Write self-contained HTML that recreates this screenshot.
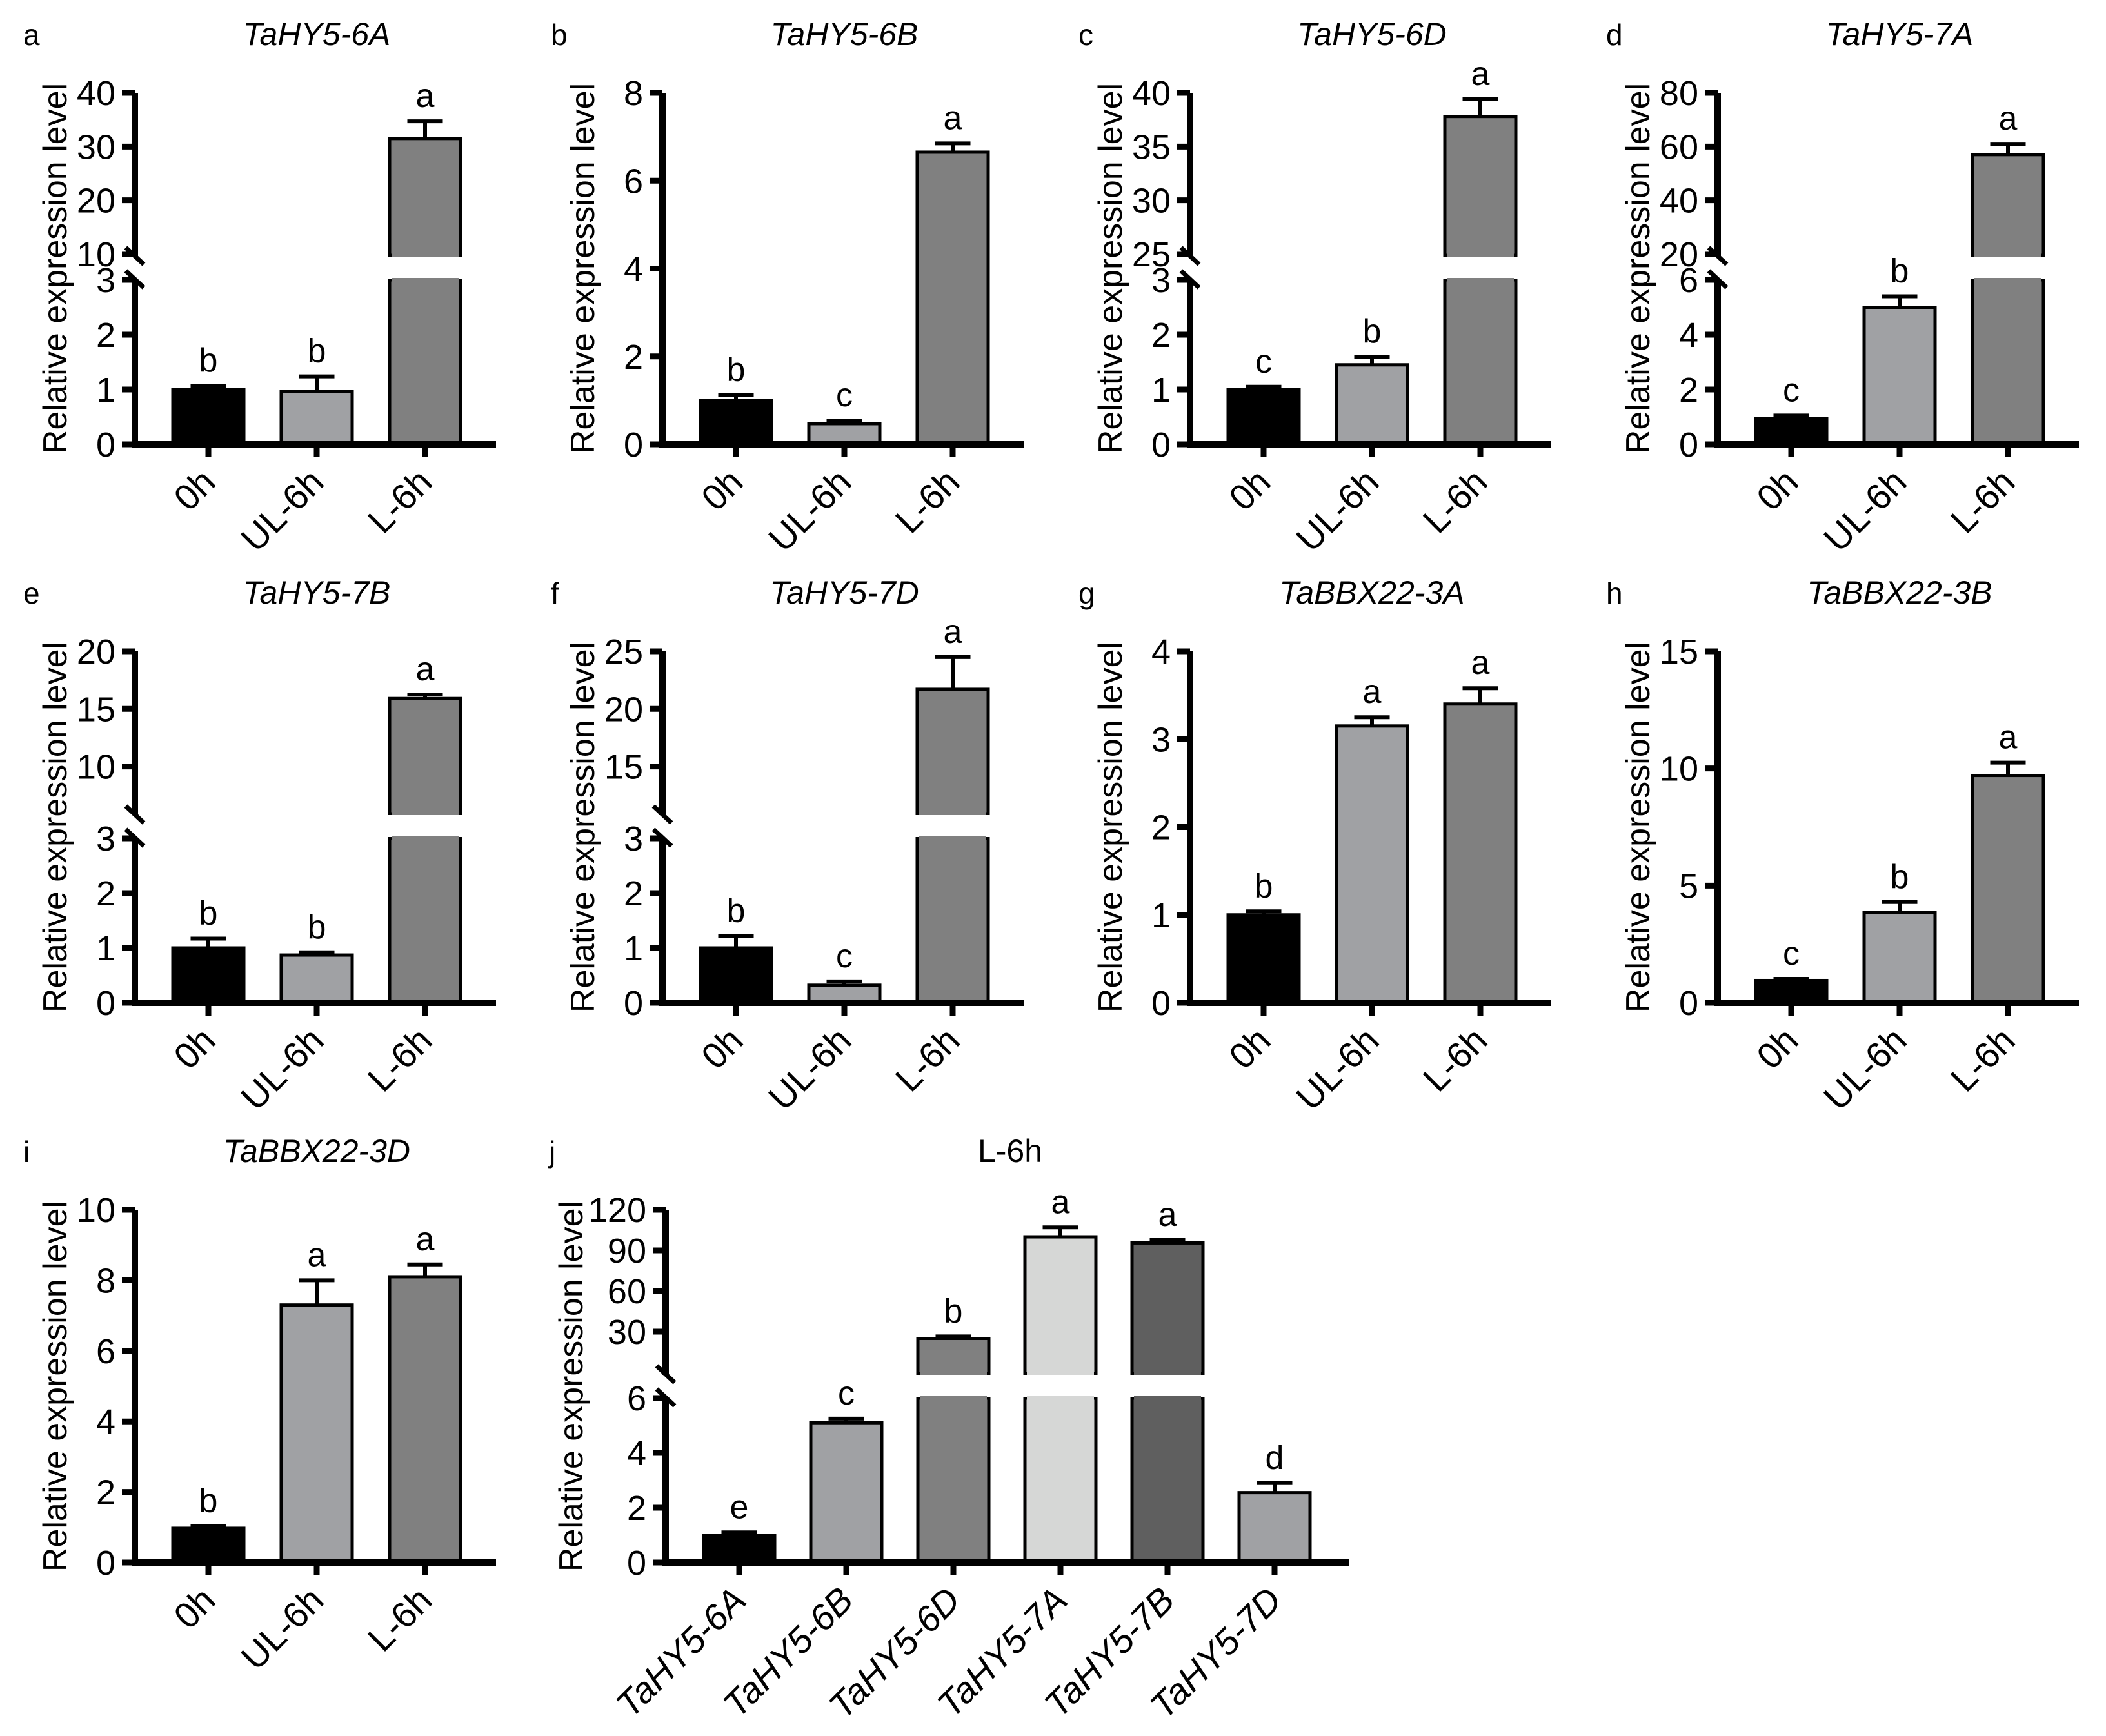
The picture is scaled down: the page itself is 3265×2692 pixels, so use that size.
<!DOCTYPE html>
<html><head><meta charset="utf-8"><style>
html,body{margin:0;padding:0;background:#fff;}
svg{display:block;font-family:"Liberation Sans",Arial,sans-serif;}
</style></head><body>
<svg id="fig" width="3265" height="2692" viewBox="0 0 3265 2692" xmlns="http://www.w3.org/2000/svg"></svg>
<script>
// ---- data ----
const timeCats = ["0h","UL-6h","L-6h"];
const geneCats = ["TaHY5-6A","TaHY5-6B","TaHY5-6D","TaHY5-7A","TaHY5-7B","TaHY5-7D"];
const valsA = [1.0, 0.97, 31.5];   const errA = [0.07, 0.27, 3.2];  const sigA = ["b","b","a"];
const valsB = [1.0, 0.47, 6.65];   const errB = [0.12, 0.07, 0.2];  const sigB = ["b","c","a"];
const valsC = [1.0, 1.45, 37.8];   const errC = [0.05, 0.15, 1.6];  const sigC = ["c","b","a"];
const valsD = [0.95, 5.0, 57];     const errD = [0.1, 0.4, 4];      const sigD = ["c","b","a"];
const valsE = [1.0, 0.87, 15.9];   const errE = [0.17, 0.05, 0.35]; const sigE = ["b","b","a"];
const valsF = [1.0, 0.32, 21.7];   const errF = [0.22, 0.07, 2.8];  const sigF = ["b","c","a"];
const valsG = [1.0, 3.15, 3.4];    const errG = [0.04, 0.1, 0.18];  const sigG = ["b","a","a"];
const valsH = [0.95, 3.85, 9.7];   const errH = [0.07, 0.45, 0.55]; const sigH = ["c","b","a"];
const valsI = [0.97, 7.3, 8.1];    const errI = [0.06, 0.7, 0.35];  const sigI = ["b","a","a"];
const valsJ = [1.0, 5.1, 25, 100, 95.5, 2.55];
const errJ = [0.1, 0.15, 1.5, 7, 2.2, 0.35];
const sigJ = ["e","c","b","a","a","d"];
const ticksA = [0,1,2,3]; const upTicksA = [10,20,30,40];
const ticksB = [0,2,4,6,8];
const ticksC = [0,1,2,3]; const upTicksC = [25,30,35,40];
const ticksD = [0,2,4,6]; const upTicksD = [20,40,60,80];
const ticksE = [0,1,2,3]; const upTicksE = [10,15,20];
const ticksF = [0,1,2,3]; const upTicksF = [15,20,25];
const ticksG = [0,1,2,3,4];
const ticksH = [0,5,10,15];
const ticksI = [0,2,4,6,8,10];
const ticksJ = [0,2,4,6]; const upTicksJ = [30,60,90,120];

const svg = document.getElementById('fig');
const NS = "http://www.w3.org/2000/svg";
function el(tag, attrs, parent, text){
  const e = document.createElementNS(NS, tag);
  for (const k in attrs) e.setAttribute(k, attrs[k]);
  if (text !== undefined) e.textContent = text;
  (parent||svg).appendChild(e);
  return e;
}
const timeColors = ["#000000","#a0a1a4","#808080"];
const geneColors = ["#000000","#a0a1a4","#808080","#d6d7d6","#5f5f5f","#a0a1a4"];

function panel(p){
  const g = el('g', {});
  
  
  const ax = p.ax, T = p.T, B = p.B;
  const broken = !!p.up;
  const lowTop = broken ? B - 255 : T;
  const upBot = B - 295;
  const lowMax = p.ticks[p.ticks.length-1];
  const yLow = v => B - (v / lowMax) * (B - lowTop);
  const yUp = v => upBot - (v - p.up.min) / (p.up.max - p.up.min) * (upBot - T);
  const lt = el('text', {x: p.lx, y: T - 74, 'font-size': 46}, g, p.letter);
  
  
  const tt = el('text', {x: p.tx, y: T - 74, 'font-size': 50, 'text-anchor': 'middle', 'font-style': p.italic ? 'italic' : 'normal'}, g, p.title);
  
  
  const yt = el('text', {x: 0, y: 0, 'font-size': 52, 'text-anchor': 'middle', transform: `translate(${ax + p.ytOff},${(T+B)/2}) rotate(-90)`}, g, "Relative expression level");
  
  
  const n = p.vals.length;
  for (let i=0;i<n;i++){
    const cx = ax + p.x0 + i * p.dx;
    const v = p.vals[i], e = p.err[i];
    const w = p.bw;
    const col = p.colors[i];
    let topY, eTop;
    if (broken && v > lowMax){
      const r1 = el('rect', {x: cx-w/2, y: lowTop, width: w, height: B-lowTop, fill: col, stroke: '#000', 'stroke-width': 5}, g);
      
      
      topY = yUp(v);
      const r2 = el('rect', {x: cx-w/2, y: topY, width: w, height: upBot + 2 - topY, fill: col, stroke: '#000', 'stroke-width': 5}, g);
      
      
      el('rect', {x: cx-w/2+3, y: upBot - 1, width: w-6, height: 8, fill: col}, g);
      el('rect', {x: cx-w/2-4, y: upBot + 4, width: w+8, height: lowTop - upBot - 6, fill: '#fff'}, g);
      el('rect', {x: cx-w/2+3, y: lowTop - 3, width: w-6, height: 8, fill: col}, g);
      eTop = yUp(v + e);
    } else {
      topY = yLow(v);
      const r = el('rect', {x: cx-w/2, y: topY, width: w, height: B-topY, fill: col, stroke: '#000', 'stroke-width': 5}, g);
      
      
      eTop = yLow(v + e);
    }
    const eb = el('path', {d: `M${cx},${topY} V${eTop} M${cx-w/4},${eTop} H${cx+w/4}`, stroke: '#000', 'stroke-width': 6, fill: 'none'}, g);
    
    
    const sl = el('text', {x: cx, y: eTop - 22, 'font-size': 52, 'text-anchor': 'middle'}, g, p.sig[i]);
    
    
    el('line', {x1: cx, y1: B, x2: cx, y2: B + 20, stroke: '#000', 'stroke-width': 9}, g);
    const xl = el('text', {x: 0, y: 0, 'font-size': 56, 'text-anchor': 'end', 'font-style': p.italicCats ? 'italic' : 'normal', transform: `translate(${cx+14},${B+62}) rotate(-45)`}, g, p.cats[i]);
    
    
  }
  const xa = el('line', {x1: ax - 4, y1: B, x2: ax + p.xlen, y2: B, stroke: '#000', 'stroke-width': 10}, g);
  
  
  const ya = el('line', {x1: ax, y1: B + 5, x2: ax, y2: lowTop, stroke: '#000', 'stroke-width': 10}, g);
  
  
  p.ticks.forEach(t => {
    const y = yLow(t);
    el('line', {x1: ax - 20, y1: y, x2: ax, y2: y, stroke: '#000', 'stroke-width': 9}, g);
    const tl = el('text', {x: ax - 30, y: y + 19, 'font-size': 54, 'text-anchor': 'end'}, g, String(t));
    
    
  });
  if (broken){
    const yu = el('line', {x1: ax, y1: T, x2: ax, y2: upBot + 4, stroke: '#000', 'stroke-width': 10}, g);
    
    
    p.up.ticks.forEach(t => {
      const y = yUp(t);
      el('line', {x1: ax - 20, y1: y, x2: ax, y2: y, stroke: '#000', 'stroke-width': 9}, g);
      const tl = el('text', {x: ax - 30, y: y + 19, 'font-size': 54, 'text-anchor': 'end'}, g, String(t));
      
      
    });
    const bm = el('path', {d: `M${ax-14},${upBot-10} L${ax+14},${upBot+16} M${ax-14},${lowTop-14} L${ax+14},${lowTop+12}`, stroke: '#000', 'stroke-width': 7, fill: 'none'}, g);
    
    
  }
}

const AX = [209, 1027, 1845, 2663];
const R = [{T:144,B:689},{T:1010,B:1555},{T:1876,B:2423}];
const base = {x0:114, dx:168, bw:110, xlen:560, ytOff:-106, cats: timeCats, colors: timeColors, italic: true};
function mk(o){ return Object.assign({}, base, o); }
const panels = [
  mk({letter:'a', title:'TaHY5-6A', ax:AX[0], ...R[0], vals:valsA, err:errA, sig:sigA, ticks:ticksA, up:{min:10,max:40,ticks:upTicksA}}),
  mk({letter:'b', title:'TaHY5-6B', ax:AX[1], ...R[0], vals:valsB, err:errB, sig:sigB, ticks:ticksB}),
  mk({letter:'c', title:'TaHY5-6D', ax:AX[2], ...R[0], vals:valsC, err:errC, sig:sigC, ticks:ticksC, up:{min:25,max:40,ticks:upTicksC}}),
  mk({letter:'d', title:'TaHY5-7A', ax:AX[3], ...R[0], vals:valsD, err:errD, sig:sigD, ticks:ticksD, up:{min:20,max:80,ticks:upTicksD}}),
  mk({letter:'e', title:'TaHY5-7B', ax:AX[0], ...R[1], vals:valsE, err:errE, sig:sigE, ticks:ticksE, up:{min:6,max:20,ticks:upTicksE}}),
  mk({letter:'f', title:'TaHY5-7D', ax:AX[1], ...R[1], vals:valsF, err:errF, sig:sigF, ticks:ticksF, up:{min:11,max:25,ticks:upTicksF}}),
  mk({letter:'g', title:'TaBBX22-3A', ax:AX[2], ...R[1], vals:valsG, err:errG, sig:sigG, ticks:ticksG}),
  mk({letter:'h', title:'TaBBX22-3B', ax:AX[3], ...R[1], vals:valsH, err:errH, sig:sigH, ticks:ticksH}),
  mk({letter:'i', title:'TaBBX22-3D', ax:AX[0], ...R[2], vals:valsI, err:errI, sig:sigI, ticks:ticksI}),
  mk({letter:'j', title:'L-6h', italic:false, ax:1032, ...R[2], x0:114, dx:166, bw:110, xlen:1059, ytOff:-129, cats:geneCats, italicCats:true, colors:geneColors, vals:valsJ, err:errJ, sig:sigJ, ticks:ticksJ, up:{min:0,max:120,ticks:upTicksJ}})
];
panels.forEach(p => {
  p.lx = p.letter === 'j' ? 851 : p.ax - 173;
  p.tx = p.letter === 'j' ? 1566 : p.ax + 282;
  panel(p);
});
</script>
</body></html>
